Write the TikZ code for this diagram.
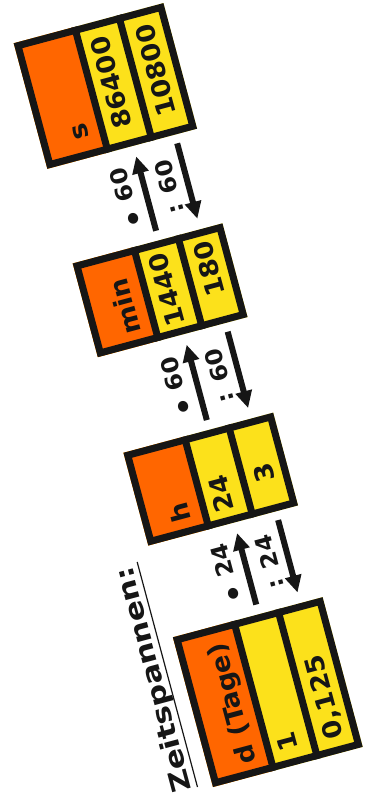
\documentclass[tikz,border=0pt]{standalone}
\usepackage{fontspec}
\setmainfont{DejaVu Sans}
\newfontfamily\cellfont{DejaVu Sans}[FakeStretch=1.06]
\newfontfamily\headfont{DejaVu Sans}[FakeStretch=1.2]
\usetikzlibrary{arrows.meta}
\definecolor{unitorange}{HTML}{FF6600}
\definecolor{cellyellow}{HTML}{FCE11B}
\definecolor{inkblack}{HTML}{161616}

\begin{document}
\begin{tikzpicture}[x=1pt, y=1pt,
  celltext/.style={font=\cellfont\bfseries\fontsize{25.5}{30}\selectfont, inner sep=0pt, text=inkblack},
  oplabel/.style={font=\cellfont\bfseries\fontsize{23}{27}\selectfont, inner sep=0pt, text=inkblack, anchor=base},
  convarrow/.style={line width=6pt, draw=inkblack, -{Triangle[length=17pt, width=16pt]}}]
\useasboundingbox (0,0) rectangle (369,-794);

% everything is drawn turned by 105 degrees
\begin{scope}[shift={(213,-787)}, rotate=105, transform shape]

% Heading
\node[font=\headfont\bfseries\fontsize{26}{30}\selectfont, inner sep=0pt, anchor=base west, text=inkblack] (heading) at (3,21) {Zeitspannen:};
\draw[line width=1.2pt, inkblack] (4,15) coordinate (ul-a) -- (237,15) coordinate (ul-b);

% Tables: unit row, then two value rows
\foreach \a/\b in {0/155, 250/346, 445/542, 640/770} {
  \fill[cellyellow] (\a,0) rectangle (\b,-155);
  \fill[unitorange] (\a,0) rectangle (\b,-63);
  \draw[line width=7pt, inkblack] (\a,-63) -- (\b,-63) (\a,-108.5) -- (\b,-108.5);
  \draw[line width=7pt, inkblack] (\a+3.5,-3.5) rectangle (\b-3.5,-151.5);
}

% Units
\node[celltext, anchor=base west] (d-unit) at (13,-48.5) {d (Tage)};
\node[celltext, anchor=base west] (h-unit) at (264,-48.5) {h};
\node[celltext, anchor=base west] (min-unit) at (458,-48.5) {min};
\node[celltext, anchor=base west] (s-unit) at (659,-48.5) {s};

% Values
\node[celltext, anchor=base east] (d-one) at (34,-93) {1};
\node[celltext, anchor=base west] (d-three) at (15,-139.5) {0,125};
\node[celltext, anchor=base east] (h-one) at (300,-93) {24};
\node[celltext, anchor=base east] (h-three) at (300,-139.5) {3};
\node[celltext, anchor=base east] (min-one) at (530,-93) {1440};
\node[celltext, anchor=base east] (min-three) at (530,-139.5) {180};
\node[celltext, anchor=base east] (s-one) at (754,-93) {86400};
\node[celltext, anchor=base east] (s-three) at (754,-139.5) {10800};

% Conversion arrows between the tables
\foreach \b/\c/\f/\n in {155/250/24/dh, 346/445/60/hmin, 542/640/60/mins} {
  \coordinate (\n-ua) at (\b+10,-89);
  \coordinate (\n-ub) at (\c-11,-89);
  \coordinate (\n-la) at (\c-9,-132);
  \coordinate (\n-lb) at (\b+11,-132);
  \draw[convarrow] (\n-ua) -- (\n-ub);
  \draw[convarrow] (\n-la) -- (\n-lb);
  \node[oplabel] (\n-mul) at ({(\b+\c)/2},-76) {\raisebox{-.22em}{\fontsize{29}{29}\selectfont •} \f};
  \node[oplabel] (\n-div) at ({(\b+\c)/2},-121) {: \f};
}

\end{scope}
\end{tikzpicture}
\end{document}
